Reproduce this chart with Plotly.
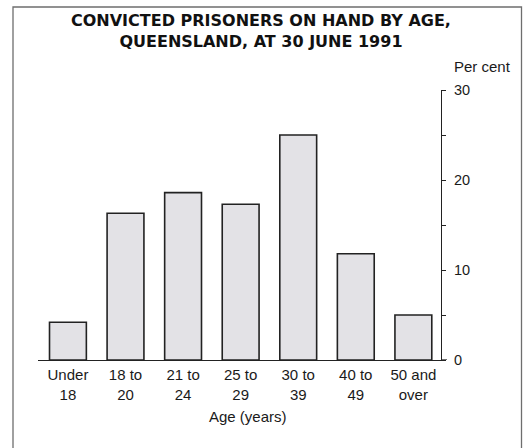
import plotly.graph_objects as go

# Age groups (two-line labels) and share of convicted prisoners, per cent
age_groups = ["Under<br>18", "18 to<br>20", "21 to<br>24", "25 to<br>29",
              "30 to<br>39", "40 to<br>49", "50 and<br>over"]
per_cent = [4.2, 16.3, 18.6, 17.3, 25.0, 11.8, 5.0]
y_ticks = [0, 10, 20, 30]
y_tick_text = ["0", "10", "20", "30"]
title_text = "CONVICTED PRISONERS ON HAND BY AGE,<br>QUEENSLAND, AT 30 JUNE 1991"

FONT = "Liberation Sans, Arial, Helvetica, sans-serif"
TITLE_FONT = "DejaVu Sans, Liberation Sans, Arial, sans-serif"
INK = "#1a1a1a"
W, H = 526, 448
ML, MR, MT, MB = 38, 85, 90, 88
PW, PH = W - ML - MR, H - MT - MB


def px_x(px):
    return (px - ML) / PW


def px_y(py):
    return (H - MB - py) / PH


fig = go.Figure(
    go.Bar(
        x=list(range(len(age_groups))),
        y=per_cent,
        marker=dict(color="#e3e2e6", line=dict(color="#222222", width=1.6)),
        width=0.64,
        hoverinfo="skip",
    )
)

fig.update_layout(
    width=W, height=H,
    margin=dict(l=ML, r=MR, t=MT, b=MB),
    paper_bgcolor="white", plot_bgcolor="white",
    showlegend=False,
    font=dict(family=FONT, size=15, color=INK),
    xaxis=dict(
        range=[-0.52, 6.48],
        tickmode="array",
        tickvals=list(range(len(age_groups))),
        ticktext=age_groups,
        ticks="", ticklabelstandoff=1,
        showgrid=False, zeroline=False,
        showline=True, linecolor="#222222", linewidth=1.3,
        tickfont=dict(size=15, family=FONT, color=INK),
        fixedrange=True,
    ),
    yaxis=dict(
        range=[0, 30], side="right",
        tickmode="array", tickvals=y_ticks, ticktext=y_tick_text,
        ticks="outside", ticklen=4, tickwidth=1.3, tickcolor="#222222",
        minor=dict(ticks="outside", tickvals=[5, 15, 25], ticklen=4,
                   tickwidth=1.3, tickcolor="#222222"),
        ticklabelstandoff=5,
        showline=True, linecolor="#222222", linewidth=1.3,
        showgrid=False, zeroline=False,
        tickfont=dict(size=14.5, family=FONT, color=INK),
        fixedrange=True,
    ),
)

# Title
fig.add_annotation(
    x=px_x(261), y=px_y(31), xref="paper", yref="paper",
    text="<b>%s</b>" % title_text, showarrow=False,
    xanchor="center", yanchor="middle",
    font=dict(size=16, family=TITLE_FONT, color="#111111"),
)
# Unit label above the value axis
fig.add_annotation(
    x=px_x(452), y=px_y(67), xref="paper", yref="paper",
    text="Per cent", showarrow=False, xanchor="left", yanchor="middle",
    font=dict(size=15, family=FONT, color=INK),
)
# Axis title
fig.add_annotation(
    x=px_x(248), y=px_y(416), xref="paper", yref="paper",
    text="Age (years)", showarrow=False, xanchor="center", yanchor="middle",
    font=dict(size=15, family=FONT, color=INK),
)
# Baseline extension to the zero tick
fig.add_shape(type="line", xref="paper", yref="y",
              x0=1.0, x1=px_x(447), y0=0, y1=0,
              line=dict(color="#222222", width=1.3))
# Surrounding frame
fig.add_shape(type="rect", xref="paper", yref="paper",
              x0=px_x(13), x1=px_x(521.5), y0=px_y(470), y1=px_y(7),
              line=dict(color="#6e6e6e", width=1.3))

fig.write_html("out.html")
